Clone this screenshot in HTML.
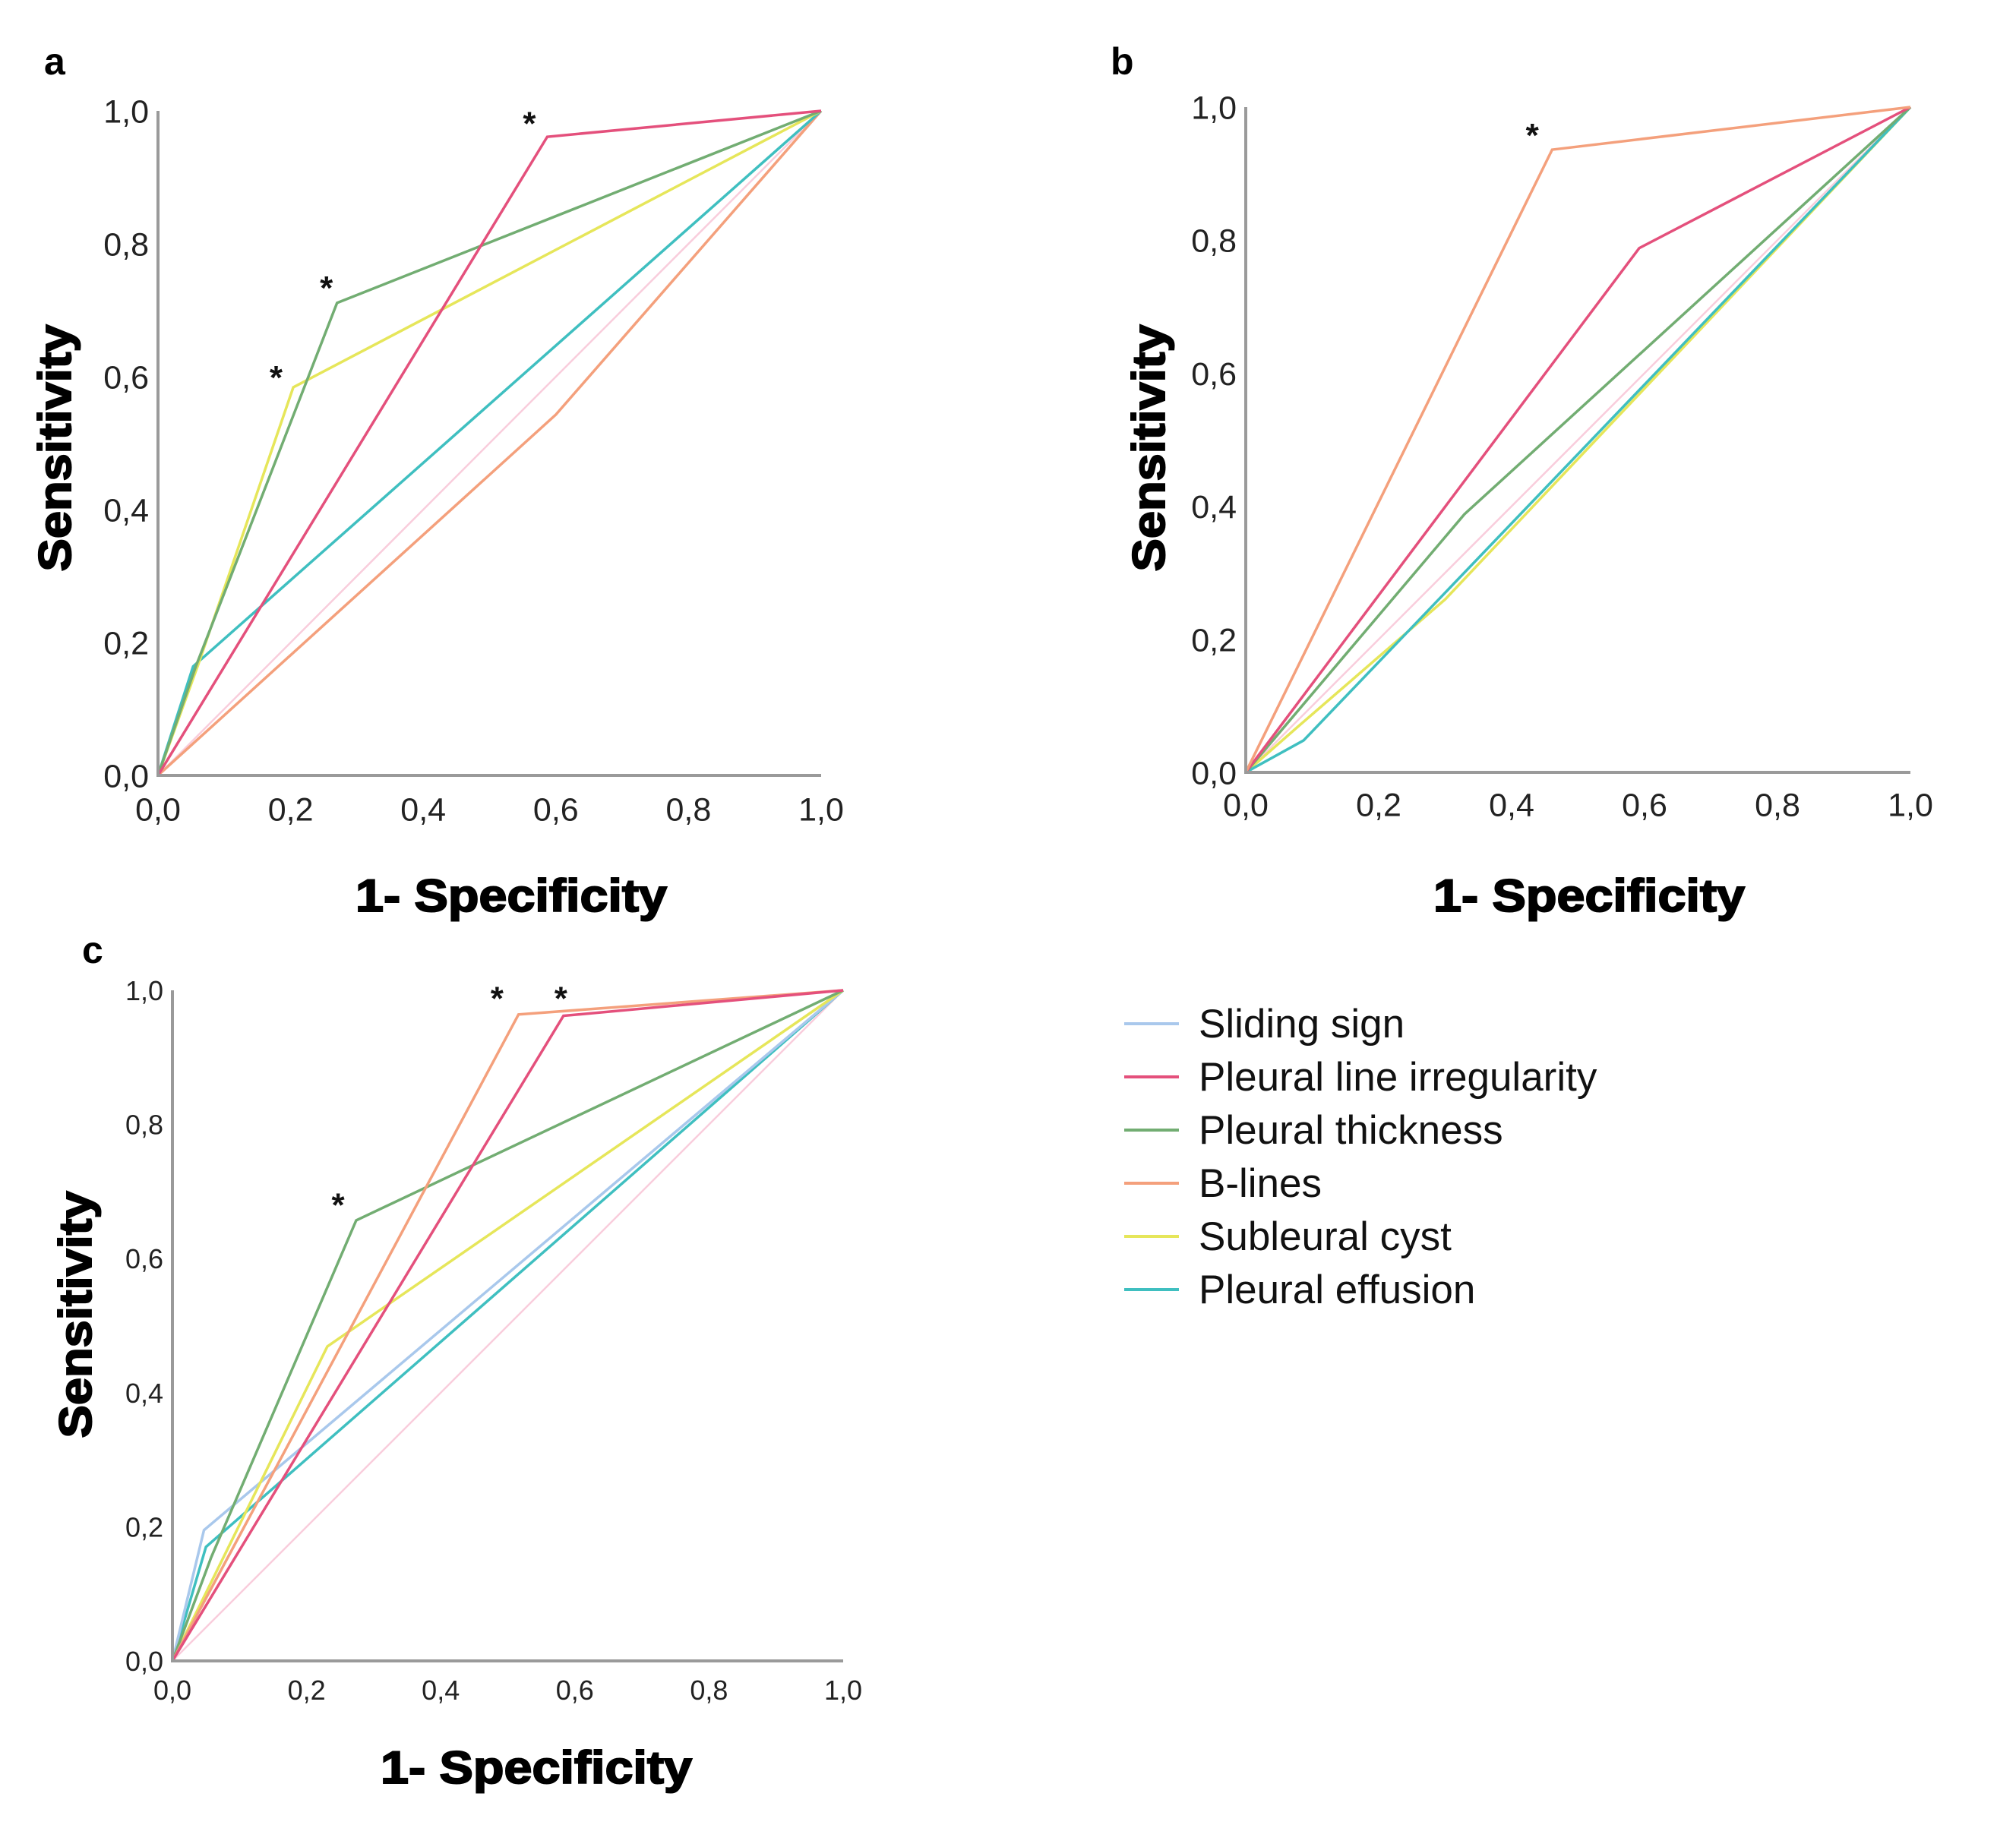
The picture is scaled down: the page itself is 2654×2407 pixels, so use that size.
<!DOCTYPE html>
<html><head><meta charset="utf-8">
<style>
body{margin:0;background:#fff;}
svg{display:block;font-family:"Liberation Sans",Arial,sans-serif;}
</style></head>
<body>
<svg id="chart" width="2654" height="2407" viewBox="0 0 2654 2407" xmlns="http://www.w3.org/2000/svg"></svg>
<script>
// ---- data (x = 1-specificity, y = sensitivity) ----
const tickLabels = ["0,0","0,2","0,4","0,6","0,8","1,0"];
const tickValues = [0,0.2,0.4,0.6,0.8,1.0];
const seriesNames = ["Sliding sign","Pleural line irregularity","Pleural thickness","B-lines","Subleural cyst","Pleural effusion"];
const seriesColors = ["#a9c8ec","#e4507c","#72ad72","#f4a07c","#e6e65a","#3fbfc0"];
const refX = [0,1];
const refY = [0,1];
// Panel a
const aPleuralLineX=[0,0.587,1], aPleuralLineY=[0,0.961,1];
const aThickX=[0,0.057,0.27,1], aThickY=[0,0.164,0.711,1];
const aCystX=[0,0.06,0.204,1], aCystY=[0,0.165,0.584,1];
const aEffX=[0,0.053,1], aEffY=[0,0.164,1];
const aBlinesX=[0,0.6,1], aBlinesY=[0,0.543,1];
const aStarX=[0.56,0.254,0.178], aStarY=[0.989,0.742,0.607];
// Panel b
const bBlinesX=[0,0.461,1], bBlinesY=[0,0.936,1];
const bPleuralLineX=[0,0.592,1], bPleuralLineY=[0,0.788,1];
const bThickX=[0,0.329,1], bThickY=[0,0.388,1];
const bEffX=[0,0.087,1], bEffY=[0,0.048,1];
const bCystX=[0,0.08,0.3,1], bCystY=[0,0.07,0.26,1];
const bStarX=[0.431], bStarY=[0.966];
// Panel c
const cSlidingX=[0,0.047,1], cSlidingY=[0,0.195,1];
const cPleuralLineX=[0,0.583,1], cPleuralLineY=[0,0.962,1];
const cThickX=[0,0.058,0.274,1], cThickY=[0,0.155,0.657,1];
const cBlinesX=[0,0.516,1], cBlinesY=[0,0.964,1];
const cCystX=[0,0.231,1], cCystY=[0,0.469,1];
const cEffX=[0,0.05,1], cEffY=[0,0.17,1];
const cStarX=[0.484,0.579,0.247], cStarY=[0.996,0.996,0.688];

const NS="http://www.w3.org/2000/svg";
const svg=document.getElementById('chart');
function mk(tag,attrs,parent){const e=document.createElementNS(NS,tag);for(const k in attrs)e.setAttribute(k,attrs[k]);(parent||svg).appendChild(e);return e;}

function panel(p){
  const g=mk('g',{});
  
  
  const sx=v=>p.x0+v*(p.x1-p.x0), sy=v=>p.y0-v*(p.y0-p.y1);
  const ref=mk('polyline',{points:refX.map((v,i)=>sx(v)+','+sy(refY[i])).join(' '),fill:'none',stroke:'#f9cddc','stroke-width':2.5},g);
  
  
  p.series.forEach(s=>{
    const l=mk('polyline',{points:s.x.map((v,i)=>sx(v)+','+sy(s.y[i])).join(' '),fill:'none',stroke:seriesColors[s.c],'stroke-width':3.5,'stroke-linejoin':'miter'},g);
    
    
  });
  const ax=mk('path',{d:`M${p.x0},${p.y1} V${p.y0} H${p.x1}`,fill:'none',stroke:'#9a9a9a','stroke-width':4},g);
  
  
  tickValues.forEach((v,i)=>{
    const t=mk('text',{x:p.x0-12,y:sy(v)+p.fs*0.36,'text-anchor':'end','font-size':p.fs,fill:'#222'},g);
    t.textContent=tickLabels[i];
    
    
    const u=mk('text',{x:sx(v),y:p.y0+p.fs*0.36+p.xlo,'text-anchor':'middle','font-size':p.fs,fill:'#222'},g);
    u.textContent=tickLabels[i];
    
    
  });
  p.starX.forEach((v,i)=>{
    const s=mk('text',{x:sx(v),y:sy(p.starY[i])+22,'text-anchor':'middle','font-size':44,'font-weight':'bold',fill:'#111'},g);
    s.textContent='*';
    
    
  });
  const xt=mk('text',{x:p.xtx,y:p.xty,'text-anchor':'middle','font-size':60,'font-weight':'bold',fill:'#000',stroke:'#000','stroke-width':2,textLength:410,lengthAdjust:'spacingAndGlyphs'},g);
  xt.textContent='1- Specificity';
  
  
  const yt=mk('text',{x:0,y:0,transform:`translate(${p.ytx},${p.yty}) rotate(-90)`,'text-anchor':'middle','font-size':60,'font-weight':'bold',fill:'#000',stroke:'#000','stroke-width':2,textLength:325,lengthAdjust:'spacingAndGlyphs'},g);
  yt.textContent='Sensitivity';
  
  
  const lt=mk('text',{x:p.lx,y:p.ly,'font-size':50,'font-weight':'bold',fill:'#000'},g);
  lt.textContent=p.id;
  
  
}

panel({id:'a',x0:208,x1:1081,y0:1021,y1:146,fs:43,xlo:44,xtx:673,xty:1200,ytx:93,yty:590,lx:58,ly:98,
  starX:aStarX,starY:aStarY,
  series:[{x:aBlinesX,y:aBlinesY,c:3},{x:aEffX,y:aEffY,c:5},{x:aCystX,y:aCystY,c:4},{x:aThickX,y:aThickY,c:2},{x:aPleuralLineX,y:aPleuralLineY,c:1}]});
panel({id:'b',x0:1640,x1:2515,y0:1017,y1:141,fs:43,xlo:42,xtx:2092,xty:1200,ytx:1533,yty:590,lx:1462,ly:98,
  starX:bStarX,starY:bStarY,
  series:[{x:bCystX,y:bCystY,c:4},{x:bEffX,y:bEffY,c:5},{x:bThickX,y:bThickY,c:2},{x:bPleuralLineX,y:bPleuralLineY,c:1},{x:bBlinesX,y:bBlinesY,c:3}]});
panel({id:'c',x0:227,x1:1110,y0:2187,y1:1304,fs:36,xlo:38,xtx:706,xty:2348,ytx:120,yty:1731,lx:108,ly:1268,
  starX:cStarX,starY:cStarY,
  series:[{x:cEffX,y:cEffY,c:5},{x:cSlidingX,y:cSlidingY,c:0},{x:cCystX,y:cCystY,c:4},{x:cThickX,y:cThickY,c:2},{x:cBlinesX,y:cBlinesY,c:3},{x:cPleuralLineX,y:cPleuralLineY,c:1}]});

const legendY=[1348,1418,1488,1558,1628,1698];
const lg=mk('g',{});


seriesNames.forEach((n,i)=>{
  const ln=mk('line',{x1:1480,x2:1552,y1:legendY[i],y2:legendY[i],stroke:seriesColors[i],'stroke-width':4},lg);
  
  
  const t=mk('text',{x:1578,y:legendY[i]+18,'font-size':53,fill:'#111'},lg);
  t.textContent=n;
  
  
});
</script>
</body></html>
